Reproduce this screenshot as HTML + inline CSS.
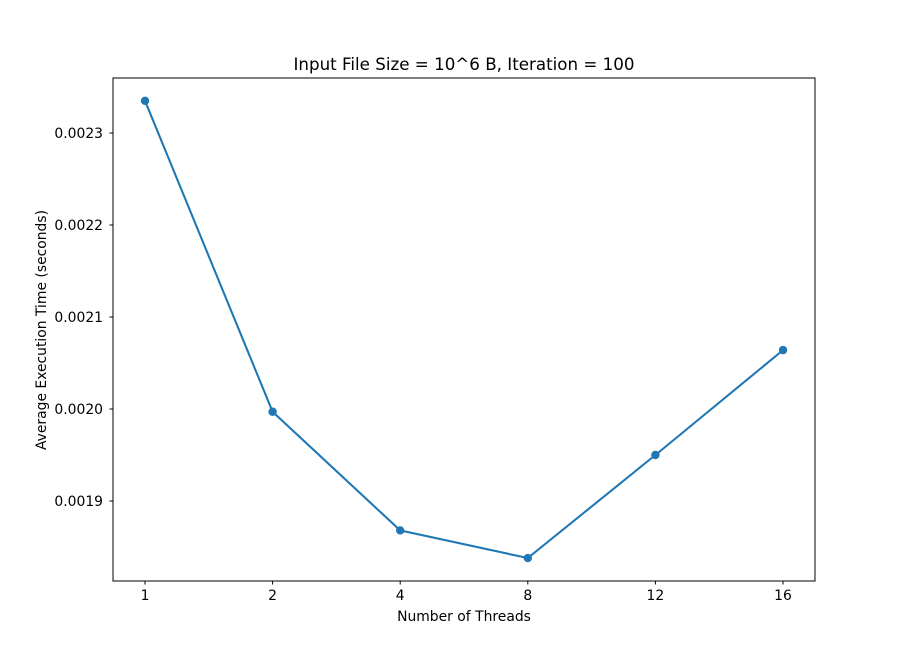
<!DOCTYPE html>
<html><head><meta charset="utf-8"><style>
body{margin:0;background:#fff;}
svg text{font-family:"DejaVu Sans","Liberation Sans",sans-serif;}
</style></head><body>
<svg id="chart" width="906" height="653" xmlns="http://www.w3.org/2000/svg">
<rect width="906" height="653" fill="#fff"/>
<text x="464" y="70" text-anchor="middle" font-size="16.7">Input File Size = 10^6 B, Iteration = 100</text>
<text x="464" y="621" text-anchor="middle" font-size="13.9">Number of Threads</text>
<text transform="translate(46,330) rotate(-90)" text-anchor="middle" font-size="13.9">Average Execution Time (seconds)</text>
<g id="ticks"></g>
<g id="marks"></g>
<rect x="113" y="78" width="702" height="503" fill="none" stroke="#000" stroke-width="1"/>
</svg>
<script>
const categories = ["1","2","4","8","12","16"];
const values = [0.002335, 0.001997, 0.001868, 0.001838, 0.001950, 0.002064];
const yTicks = [0.0019, 0.0020, 0.0021, 0.0022, 0.0023];
const yTickLabels = ["0.0019","0.0020","0.0021","0.0022","0.0023"];

const NS="http://www.w3.org/2000/svg";
function xPos(i){return 145 + i*127.6;}
function yPos(v){return 409 - (v-0.0020)/0.0001*92;}
function mk(tag,attrs,parent){const e=document.createElementNS(NS,tag);for(const k in attrs)e.setAttribute(k,attrs[k]);parent.appendChild(e);return e;}
const tg=document.getElementById('ticks'), mg=document.getElementById('marks');
categories.forEach((c,i)=>{
  const x=xPos(i);
  const t=mk('line',{x1:x,x2:x,y1:581,y2:584.5,stroke:'#000'},tg);
  
  
  const l=mk('text',{x:x,y:600,'text-anchor':'middle','font-size':13.9},tg);
  l.textContent=c;
  
  
});
yTicks.forEach((v,i)=>{
  const y=yPos(v);
  const t=mk('line',{x1:109.5,x2:113,y1:y,y2:y,stroke:'#000'},tg);
  
  
  const l=mk('text',{x:103,y:y+5,'text-anchor':'end','font-size':13.9},tg);
  l.textContent=yTickLabels[i];
  
  
});
const pts=values.map((v,i)=>xPos(i)+','+yPos(v)).join(' ');
const line=mk('polyline',{points:pts,fill:'none',stroke:'#1f77b4','stroke-width':2.08},mg);


values.forEach((v,i)=>{
  const c=mk('circle',{cx:xPos(i),cy:yPos(v),r:4.2,fill:'#1f77b4'},mg);
  
  
});
</script>
</body></html>
